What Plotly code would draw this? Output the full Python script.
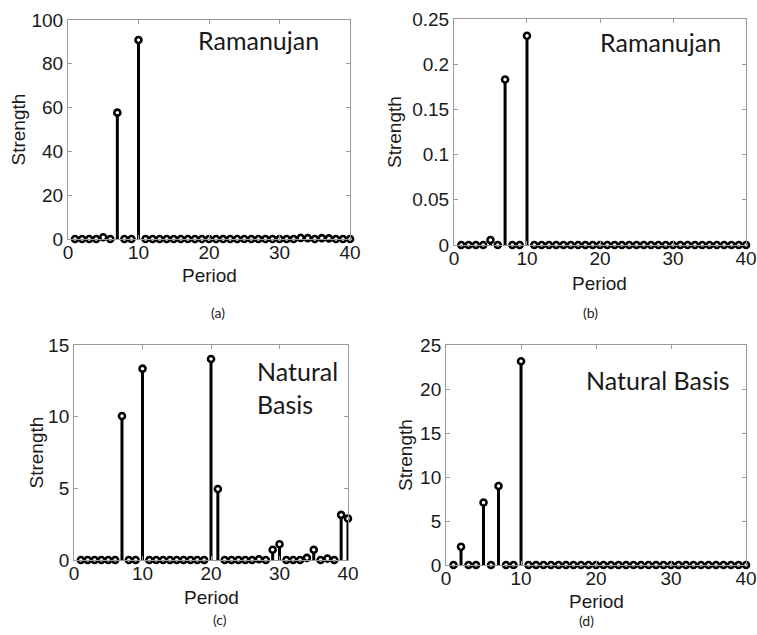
import plotly.graph_objects as go

periods = list(range(1, 41))

strength_a = [0, 0, 0, 0, 0.8, 0, 57.7, 0, 0, 90.9,
              0, 0, 0, 0, 0, 0, 0, 0, 0, 0,
              0, 0, 0, 0, 0, 0, 0, 0, 0, 0,
              0, 0, 0.5, 0.4, 0, 0.4, 0.3, 0, 0, 0]
strength_b = [0, 0, 0, 0, 0.0055, 0, 0.183, 0, 0, 0.2315,
              0, 0, 0, 0, 0, 0, 0, 0, 0, 0,
              0, 0, 0, 0, 0, 0, 0, 0, 0, 0,
              0, 0, 0, 0, 0, 0, 0, 0, 0, 0]
strength_c = [0, 0, 0, 0, 0, 0, 10.05, 0, 0, 13.35,
              0, 0, 0, 0, 0, 0, 0, 0, 0, 14.02,
              4.95, 0, 0, 0, 0, 0, 0.05, 0, 0.72, 1.1,
              0, 0, 0, 0.15, 0.72, 0, 0.1, 0, 3.15, 2.9]
strength_d = [0, 2.08, 0, 0, 7.1, 0, 8.98, 0, 0, 23.15,
              0, 0, 0, 0, 0, 0, 0, 0, 0, 0,
              0, 0, 0, 0, 0, 0, 0, 0, 0, 0,
              0, 0, 0, 0, 0, 0, 0, 0, 0, 0]

x_ticks = [0, 10, 20, 30, 40]
W, H = 757, 635
# layout (pixel positions): period-title y, strength-title x, caption y
panels = [
    dict(vals=strength_a, yr=[0, 100], ytick=[0, 20, 40, 60, 80, 100],
         xd=[0.0898, 0.4624], yd=[0.6236, 0.9685], cap="(a)", py=276, sx=19, cy=312),
    dict(vals=strength_b, yr=[0, 0.25], ytick=[0, 0.05, 0.1, 0.15, 0.2, 0.25],
         xd=[0.5997, 0.9855], yd=[0.6142, 0.9701], cap="(b)", py=283, sx=395, cy=312),
    dict(vals=strength_c, yr=[0, 15], ytick=[0, 5, 10, 15],
         xd=[0.0978, 0.4597], yd=[0.1181, 0.4567], cap="(c)", py=597, sx=37, cy=619),
    dict(vals=strength_d, yr=[0, 25], ytick=[0, 5, 10, 15, 20, 25],
         xd=[0.5892, 0.9855], yd=[0.1102, 0.4567], cap="(d)", py=601, sx=405, cy=620),
]

fig = go.Figure()
tick_font = dict(family="Liberation Sans, Arial", size=19, color="#1a1a1a")
axis_common = dict(showgrid=False, zeroline=False, showline=True, linecolor="#9a9a9a",
                   linewidth=1, mirror="ticks", ticks="inside", ticklen=4, automargin=False,
                   tickcolor="#9a9a9a", tickfont=tick_font)

for i, p in enumerate(panels):
    n = "" if i == 0 else str(i + 1)
    xs, ys = [], []
    for per, v in zip(periods, p["vals"]):
        if v > 0:
            xs += [per, per, None]
            ys += [0, v, None]
    fig.add_trace(go.Scatter(x=xs, y=ys, mode="lines", line=dict(color="black", width=3),
                             xaxis="x" + n, yaxis="y" + n, showlegend=False, cliponaxis=False,
                             hoverinfo="skip"))
    fig.add_trace(go.Scatter(x=periods, y=p["vals"], mode="markers",
                             marker=dict(symbol="circle", size=6, color="white",
                                         line=dict(color="black", width=2.6)),
                             xaxis="x" + n, yaxis="y" + n, showlegend=False, cliponaxis=False))
    fig.layout["xaxis" + n] = dict(axis_common, domain=p["xd"], range=[0, 40], tickvals=x_ticks,
                                   anchor="y" + n, ticklabelstandoff=-4)
    fig.layout["yaxis" + n] = dict(axis_common, domain=p["yd"], range=p["yr"], tickvals=p["ytick"],
                                   anchor="x" + n)
    xc = (p["xd"][0] + p["xd"][1]) / 2
    yc = (p["yd"][0] + p["yd"][1]) / 2
    fig.add_annotation(text="Period", xref="paper", yref="paper", x=xc, y=1 - p["py"] / H,
                       showarrow=False, font=tick_font, xanchor="center", yanchor="middle")
    fig.add_annotation(text="Strength", xref="paper", yref="paper", x=p["sx"] / W, y=yc,
                       showarrow=False, font=tick_font, textangle=-90,
                       xanchor="center", yanchor="middle")
    fig.add_annotation(text=p["cap"], xref="paper", yref="paper", x=xc, y=1 - p["cy"] / H,
                       showarrow=False, font=dict(family="Lato, Open Sans", size=14, color="#222"),
                       yanchor="middle")

label_font = dict(family="Lato, Open Sans", size=25, color="#1a1a1a")
fig.add_annotation(text="Ramanujan", xref="x domain", yref="y domain", x=0.455, y=0.91,
                   showarrow=False, font=label_font, xanchor="left", yanchor="middle")
fig.add_annotation(text="Ramanujan", xref="x2 domain", yref="y2 domain", x=0.493, y=0.9,
                   showarrow=False, font=label_font, xanchor="left", yanchor="middle")
fig.add_annotation(text="Natural<br>Basis", xref="x3 domain", yref="y3 domain", x=0.66, y=0.80,
                   showarrow=False, font=label_font, xanchor="left", yanchor="middle", align="left")
fig.add_annotation(text="Natural Basis", xref="x4 domain", yref="y4 domain", x=0.46, y=0.84,
                   showarrow=False, font=label_font, xanchor="left", yanchor="middle")

fig.update_layout(width=W, height=H, margin=dict(l=0, r=0, t=0, b=0),
                  paper_bgcolor="white", plot_bgcolor="white")
fig.write_html("out.html")
